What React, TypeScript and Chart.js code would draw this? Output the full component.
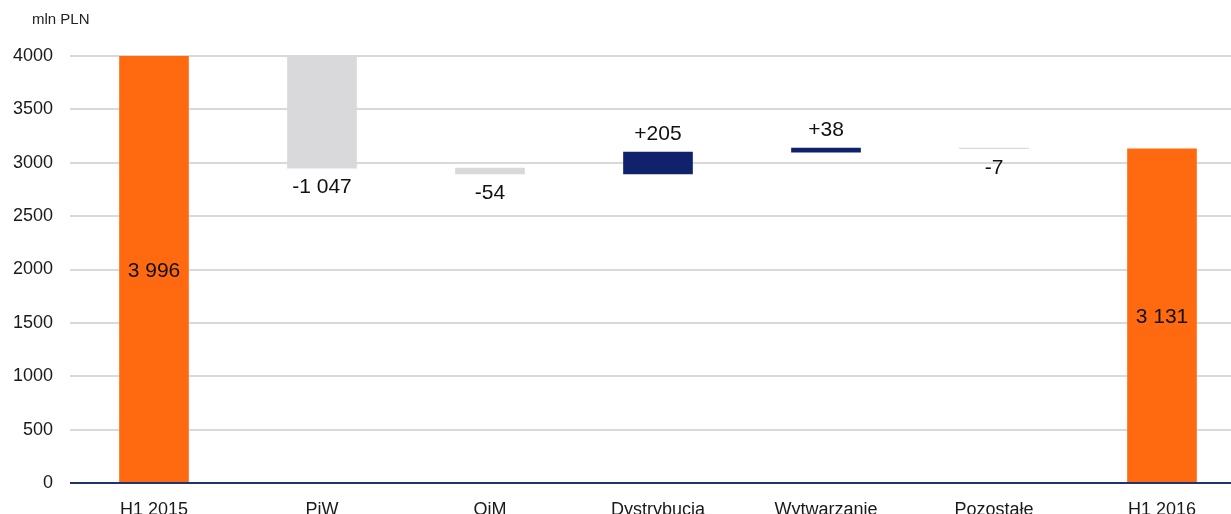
import React, { useEffect, useRef } from "react";
import { Chart, registerables } from "chart.js";

Chart.register(...registerables);

const categories = ["H1 2015", "PiW", "OiM", "Dystrybucja", "Wytwarzanie", "Pozostałe", "H1 2016"];
const startTotal = 3996;
const deltas = [-1047, -54, 205, 38, -7];
const endTotal = 3131;
const yTicks = [0, 500, 1000, 1500, 2000, 2500, 3000, 3500, 4000];
const unitLabel = "mln PLN";

const ORANGE = "#FF6A10";
const GRAY = "#D9D9DB";
const NAVY = "#10226C";
const AXIS = "#1F3370";
const FONT = "'Liberation Sans', Arial, sans-serif";

function fmt(v: number, sign: boolean): string {
  const abs = Math.abs(v);
  const s = abs >= 1000 ? Math.floor(abs / 1000) + " " + String(abs % 1000).padStart(3, "0") : String(abs);
  if (v < 0) return "-" + s;
  return (sign ? "+" : "") + s;
}

export default function App() {
  const ref = useRef<HTMLCanvasElement | null>(null);

  useEffect(() => {
    const canvas = ref.current;
    if (!canvas) return;

    const ranges: [number, number][] = [];
    const colors: string[] = [];
    const labels: string[] = [];
    const kinds: string[] = [];
    ranges.push([0, startTotal]);
    colors.push(ORANGE);
    labels.push(fmt(startTotal, false));
    kinds.push("total");
    let cur = startTotal;
    for (const d of deltas) {
      const next = cur + d;
      ranges.push([Math.min(cur, next), Math.max(cur, next)]);
      colors.push(d < 0 ? GRAY : NAVY);
      labels.push(fmt(d, true));
      kinds.push(d < 0 ? "neg" : "pos");
      cur = next;
    }
    ranges.push([0, endTotal]);
    colors.push(ORANGE);
    labels.push(fmt(endTotal, false));
    kinds.push("total");

    const overlay = {
      id: "overlay",
      afterDatasetsDraw(chart: any) {
        const ctx = chart.ctx;
        const area = chart.chartArea;
        const y = chart.scales.y;
        const meta = chart.getDatasetMeta(0);
        ctx.save();
        const y0 = Math.round(y.getPixelForValue(0));
        ctx.strokeStyle = AXIS;
        ctx.lineWidth = 2;
        ctx.beginPath();
        ctx.moveTo(area.left, y0);
        ctx.lineTo(area.right, y0);
        ctx.stroke();
        ctx.fillStyle = "#111111";
        ctx.font = "21px " + FONT;
        ctx.textAlign = "center";
        ctx.textBaseline = "middle";
        meta.data.forEach((bar: any, i: number) => {
          const r = ranges[i];
          const top = y.getPixelForValue(r[1]);
          const bottom = y.getPixelForValue(r[0]);
          let ty: number;
          if (kinds[i] === "total") ty = (top + bottom) / 2 + 1;
          else if (kinds[i] === "neg") ty = bottom + 19;
          else ty = top - 18;
          ctx.fillText(labels[i], bar.x, ty);
        });
        ctx.font = "15px " + FONT;
        ctx.textAlign = "left";
        ctx.fillStyle = "#222222";
        ctx.fillText(unitLabel, 32, 20);
        ctx.restore();
      },
    };

    const chart = new Chart(canvas, {
      type: "bar",
      data: {
        labels: categories,
        datasets: [
          {
            data: ranges as any,
            backgroundColor: colors,
            borderWidth: 0,
            borderSkipped: false,
            barThickness: 69,
          },
        ],
      },
      options: {
        animation: false,
        responsive: false,
        maintainAspectRatio: false,
        layout: { padding: { top: 56, left: 0, right: 0, bottom: 0 } },
        plugins: { legend: { display: false }, tooltip: { enabled: false } },
        scales: {
          x: {
            grid: { display: false },
            border: { display: false },
            ticks: { font: { size: 18, family: FONT }, color: "#1a1a1a", padding: 8, maxRotation: 0 },
            afterFit: (s: any) => {
              s.height = 31;
            },
          },
          y: {
            min: 0,
            max: 4000,
            afterBuildTicks: (s: any) => {
              s.ticks = yTicks.map((v) => ({ value: v }));
            },
            grid: { color: "#D9D9D9", lineWidth: 2, drawTicks: false },
            border: { display: false },
            ticks: {
              font: { size: 18, family: FONT },
              color: "#1a1a1a",
              padding: 17,
              callback: (v: any) => String(v),
            },
            afterFit: (s: any) => {
              s.width = 70;
            },
          },
        },
      },
      plugins: [overlay],
    });
    return () => chart.destroy();
  }, []);

  return (
    <div style={{ position: "fixed", left: 0, top: 0, width: 1231, height: 514, overflow: "hidden", background: "#fff" }}>
      <canvas ref={ref} width={1246} height={514} style={{ width: 1246, height: 514, display: "block" }} />
    </div>
  );
}
